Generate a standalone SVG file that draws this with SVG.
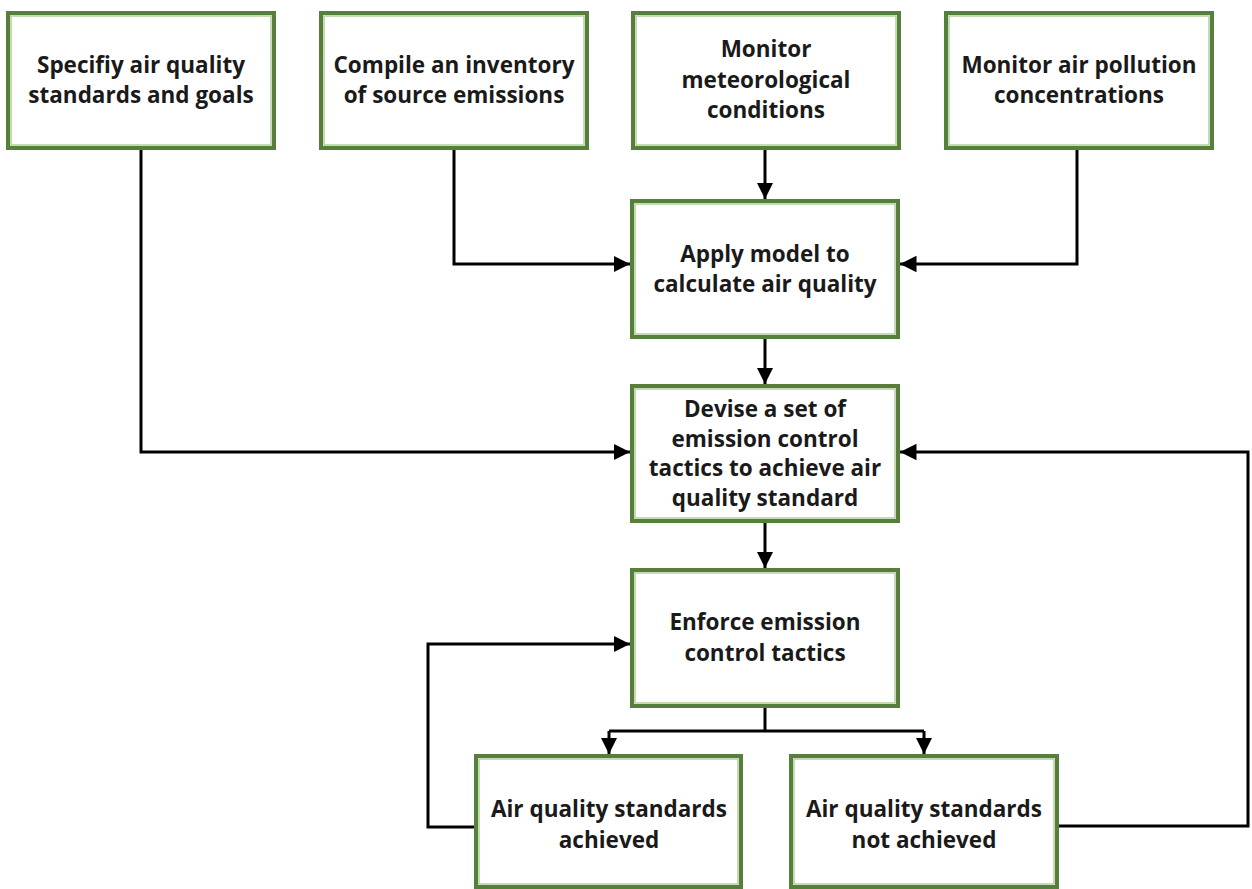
<svg xmlns="http://www.w3.org/2000/svg" width="1252" height="889" viewBox="0 0 1252 889">
<style>
.box{fill:#fff;stroke:#557f3a;stroke-width:4}
.inner{fill:none;stroke:#b3cf9b;stroke-width:1.5}
.t{font-family:"Open Sans","Liberation Sans",sans-serif;font-weight:bold;font-size:22.5px;fill:#1a1a1a;text-anchor:middle}
.c{fill:none;stroke:#000;stroke-width:3}
</style>
<defs>
<marker id="ah" viewBox="0 0 10 10" refX="10" refY="5" markerWidth="5.5" markerHeight="5.5" orient="auto" markerUnits="strokeWidth">
<path d="M0,0 L10,5 L0,10 z" fill="#000"/>
</marker>
</defs>
<rect width="1252" height="889" fill="#fff"/>
<g id="connectors">
<path class="c" d="M141,150 V452 H630" marker-end="url(#ah)"/>
<path class="c" d="M454,149 V264 H630" marker-end="url(#ah)"/>
<path class="c" d="M765,149 V199" marker-end="url(#ah)"/>
<path class="c" d="M1077,149 V264 H900" marker-end="url(#ah)"/>
<path class="c" d="M765,339 V384" marker-end="url(#ah)"/>
<path class="c" d="M765,523 V568" marker-end="url(#ah)"/>
<path class="c" d="M765,708 V731"/>
<path class="c" d="M609,731 H924"/>
<path class="c" d="M609,731 V754" marker-end="url(#ah)"/>
<path class="c" d="M924,731 V754" marker-end="url(#ah)"/>
<path class="c" d="M474,827 H428 V644 H630" marker-end="url(#ah)"/>
<path class="c" d="M1059,826 H1248 V452 H900" marker-end="url(#ah)"/>
</g>
<g id="n1">
<rect class="box" x="8" y="13" width="266" height="135"/><rect class="inner" x="11" y="16" width="260" height="129"/>
<text class="t" x="141" y="73">Specifiy air quality<tspan x="141" dy="30">standards and goals</tspan></text>
</g>
<g id="n2">
<rect class="box" x="321" y="13" width="266" height="135"/><rect class="inner" x="324" y="16" width="260" height="129"/>
<text class="t" x="454" y="73">Compile an inventory<tspan x="454" dy="30">of source emissions</tspan></text>
</g>
<g id="n3">
<rect class="box" x="633" y="13" width="266" height="135"/><rect class="inner" x="636" y="16" width="260" height="129"/>
<text class="t" x="766" y="57">Monitor<tspan x="766" dy="30.5">meteorological</tspan><tspan x="766" dy="30.5">conditions</tspan></text>
</g>
<g id="n4">
<rect class="box" x="946" y="13" width="266" height="135"/><rect class="inner" x="949" y="16" width="260" height="129"/>
<text class="t" x="1079" y="73">Monitor air pollution<tspan x="1079" dy="30">concentrations</tspan></text>
</g>
<g id="n5">
<rect class="box" x="632" y="201" width="266" height="136"/><rect class="inner" x="635" y="204" width="260" height="130"/>
<text class="t" x="765" y="262">Apply model to<tspan x="765" dy="30">calculate air quality</tspan></text>
</g>
<g id="n6">
<rect class="box" x="632" y="386" width="266" height="135"/><rect class="inner" x="635" y="389" width="260" height="129"/>
<text class="t" x="765" y="417">Devise a set of<tspan x="765" dy="29.5">emission control</tspan><tspan x="765" dy="29.5">tactics to achieve air</tspan><tspan x="765" dy="29.5">quality standard</tspan></text>
</g>
<g id="n7">
<rect class="box" x="632" y="570" width="266" height="136"/><rect class="inner" x="635" y="573" width="260" height="130"/>
<text class="t" x="765" y="630">Enforce emission<tspan x="765" dy="31">control tactics</tspan></text>
</g>
<g id="n8">
<rect class="box" x="476" y="756" width="265" height="131"/><rect class="inner" x="479" y="759" width="259" height="125"/>
<text class="t" x="609" y="817">Air quality standards<tspan x="609" dy="31">achieved</tspan></text>
</g>
<g id="n9">
<rect class="box" x="791" y="756" width="266" height="131"/><rect class="inner" x="794" y="759" width="260" height="125"/>
<text class="t" x="924" y="817">Air quality standards<tspan x="924" dy="31">not achieved</tspan></text>
</g>
</svg>
